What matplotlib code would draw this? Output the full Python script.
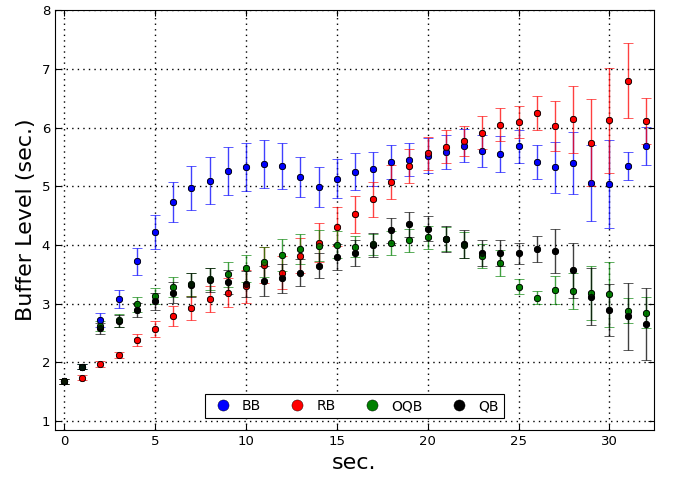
import matplotlib
matplotlib.use("Agg")
import matplotlib.pyplot as plt
from matplotlib.lines import Line2D

secs = list(range(33))

bb = [1.68, 1.93, 2.73, 3.08, 3.72, 4.22, 4.73, 4.97, 5.09, 5.26, 5.33,
      5.38, 5.34, 5.15, 4.99, 5.13, 5.25, 5.29, 5.42, 5.45, 5.52, 5.59,
      5.69, 5.60, 5.55, 5.68, 5.41, 5.32, 5.40, 5.05, 5.04, 5.35, 5.69]
bb_err = [0.04, 0.04, 0.12, 0.16, 0.23, 0.29, 0.34, 0.375, 0.40, 0.41, 0.41,
          0.41, 0.39, 0.34, 0.34, 0.33, 0.31, 0.29, 0.29, 0.28, 0.30, 0.29,
          0.28, 0.28, 0.30, 0.28, 0.29, 0.44, 0.53, 0.65, 0.75, 0.24, 0.32]

rb = [1.68, 1.74, 1.98, 2.12, 2.38, 2.57, 2.79, 2.93, 3.08, 3.19, 3.30,
      3.66, 3.53, 3.82, 4.04, 4.31, 4.52, 4.78, 5.07, 5.34, 5.56, 5.67,
      5.77, 5.91, 6.05, 6.10, 6.24, 6.03, 6.14, 5.74, 6.12, 6.80, 6.11]
rb_err = [0.04, 0.04, 0.05, 0.05, 0.10, 0.13, 0.17, 0.20, 0.22, 0.24, 0.28,
          0.30, 0.28, 0.30, 0.33, 0.33, 0.32, 0.30, 0.29, 0.29, 0.28, 0.28,
          0.26, 0.28, 0.28, 0.27, 0.29, 0.43, 0.57, 0.74, 0.90, 0.64, 0.39]

oqb = [1.68, 1.93, 2.62, 2.72, 2.99, 3.13, 3.28, 3.33, 3.42, 3.50, 3.60,
       3.71, 3.83, 3.93, 3.99, 4.00, 3.97, 4.01, 4.03, 4.08, 4.13, 4.10,
       4.00, 3.81, 3.70, 3.29, 3.10, 3.24, 3.22, 3.19, 3.16, 2.88, 2.85]
oqb_err = [0.04, 0.04, 0.08, 0.11, 0.13, 0.14, 0.17, 0.19, 0.19, 0.21, 0.23,
           0.25, 0.27, 0.26, 0.26, 0.23, 0.18, 0.18, 0.20, 0.20, 0.20, 0.20,
           0.22, 0.20, 0.22, 0.13, 0.11, 0.24, 0.31, 0.46, 0.55, 0.21, 0.26]

qb = [1.68, 1.93, 2.58, 2.71, 2.90, 3.04, 3.19, 3.32, 3.40, 3.37, 3.33,
      3.39, 3.43, 3.53, 3.65, 3.80, 3.86, 4.00, 4.25, 4.35, 4.28, 4.10,
      4.01, 3.86, 3.87, 3.86, 3.93, 3.90, 3.57, 3.12, 2.89, 2.79, 2.65]
qb_err = [0.04, 0.04, 0.09, 0.10, 0.12, 0.14, 0.18, 0.20, 0.20, 0.21, 0.22,
          0.25, 0.25, 0.23, 0.22, 0.22, 0.22, 0.21, 0.21, 0.22, 0.21, 0.22,
          0.24, 0.22, 0.22, 0.18, 0.22, 0.37, 0.47, 0.49, 0.44, 0.57, 0.61]

series = [("BB", bb, bb_err, "blue"),
          ("RB", rb, rb_err, "red"),
          ("OQB", oqb, oqb_err, "green"),
          ("QB", qb, qb_err, "black")]

fig = plt.figure(figsize=(6.73, 4.79), dpi=100)
ax = fig.add_axes([0.0817, 0.1023, 0.8901, 0.8767])

for name, vals, errs, col in series:
    ax.errorbar(secs, vals, yerr=errs, fmt="o", color=col, ecolor=col,
                mec="black", mew=0.6, ms=4.5, elinewidth=1.0, capsize=3.5,
                capthick=1.0, alpha=0.75)
    ax.plot(secs, vals, "o", color=col, mec="black", mew=0.6, ms=4.5)

ax.set_xlim(-0.5, 32.45)
ax.set_ylim(0.85, 8)
ax.set_xticks(range(0, 31, 5))
ax.set_yticks(range(1, 9))
ax.grid(True, linestyle=(0, (1, 3)), color="black", linewidth=1.0)
ax.tick_params(direction="in", top=True, right=True, labelsize=9.5, length=4)
ax.set_xlabel("sec.", fontsize=16)
ax.set_ylabel("Buffer Level (sec.)", fontsize=16)

handles = [Line2D([], [], marker="o", linestyle="", color=c, mec="black",
                  mew=0.3, ms=8) for _, _, _, c in series]
leg = ax.legend(handles, [s[0] for s in series], loc="lower center",
                bbox_to_anchor=(0.5, 0.012), ncol=4, fontsize=10,
                fancybox=False, framealpha=1, edgecolor="black",
                handletextpad=0.5, columnspacing=1.7, borderpad=0.35,
                handlelength=1.8, numpoints=1)
leg.get_frame().set_linewidth(0.8)

fig.savefig("out.png", dpi=100)
